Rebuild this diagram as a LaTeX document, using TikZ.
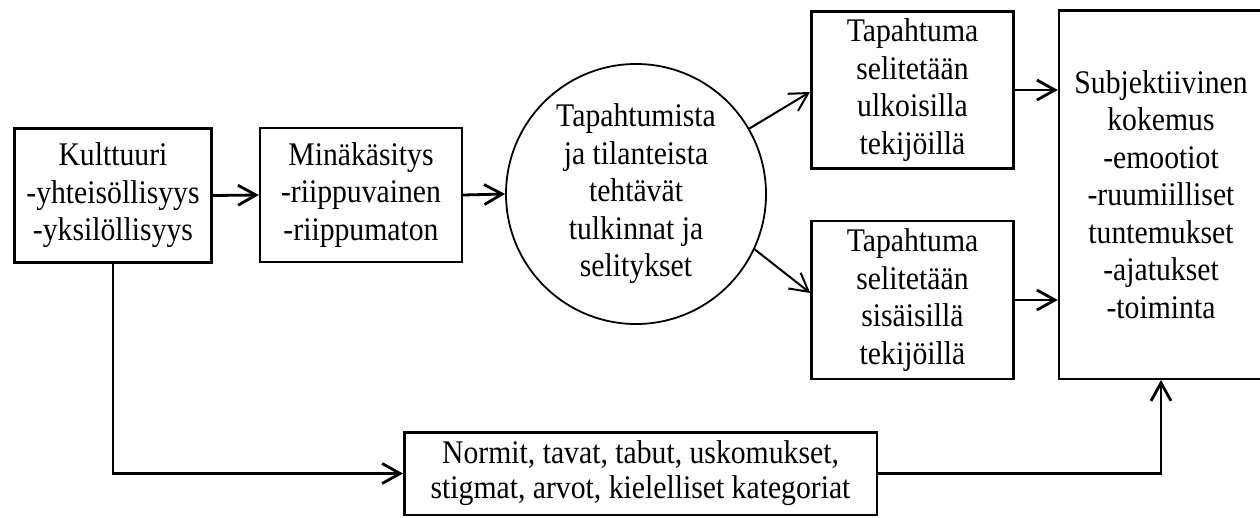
\documentclass[tikz,border=0pt]{standalone}
\usepackage{fontspec}
\setmainfont[FakeStretch=0.9]{Liberation Serif}
\usetikzlibrary{arrows.meta,calc}
\begin{document}
\begin{tikzpicture}[x=1pt,y=-1pt,
  box/.style={draw,rectangle,inner sep=0pt,align=center,font=\fontsize{33}{37.5}\selectfont},
  arr/.style={-{Straight Barb[length=18pt,width=20pt]},line width=2.8pt},
  thinarr/.style={-{Straight Barb[length=18pt,width=20pt]},line width=2pt}]
\useasboundingbox (0,0) rectangle (1260,517);
\clip (0,0) rectangle (1260,517);
\node[box,line width=3pt,minimum width=197pt,minimum height=134pt] (k) at (113,195.5)
  {Kulttuuri\\-yhteisöllisyys\\-yksilöllisyys};
\node[box,line width=2.2pt,minimum width=202pt,minimum height=134pt] (m) at (361,195)
  {Minäkäsitys\\-riippuvainen\\-riippumaton};
\node[box,circle,line width=1.8pt,minimum size=260pt] (c) at (636,194)
  {Tapahtumista\\ja tilanteista\\tehtävät\\tulkinnat ja\\selitykset};
\node[box,line width=3pt,minimum width=202pt,minimum height=157pt] (tu) at (912.5,90)
  {Tapahtuma\\selitetään\\ulkoisilla\\tekijöillä};
\node[box,line width=2.5pt,minimum width=202pt,minimum height=158pt] (tl) at (912.5,300)
  {Tapahtuma\\selitetään\\sisäisillä\\tekijöillä};
\node[box,line width=2.5pt,minimum width=204pt,minimum height=368.5pt,text width=200pt] (s) at (1161,194.5)
  {Subjektiivinen\\kokemus\\-emootiot\\-ruumiilliset\\tuntemukset\\-ajatukset\\-toiminta};
\node[box,line width=2.5pt,minimum width=472.5pt,minimum height=82.5pt,font=\fontsize{33}{35}\selectfont] (n) at (640.5,473.5)
  {Normit, tavat, tabut, uskomukset,\\stigmat, arvot, kielelliset kategoriat};
\coordinate (kb) at (113,473.5);
\draw[arr] (k.east) -- (m.west);
\draw[arr] (m.east) -- (c.west);
\draw[thinarr] (c.30) -- ($(tu.west)+(0,2)$);
\draw[thinarr] (c.-25) -- ($(tl.west)+(0,-7)$);
\draw[arr] (tu.east) -- (tu.east -| s.west);
\draw[arr] (tl.east) -- (tl.east -| s.west);
\draw[arr] (k.south) -- (kb) -- (n.west);
\draw[arr] (n.east) -| (s.south);
\end{tikzpicture}
\end{document}
